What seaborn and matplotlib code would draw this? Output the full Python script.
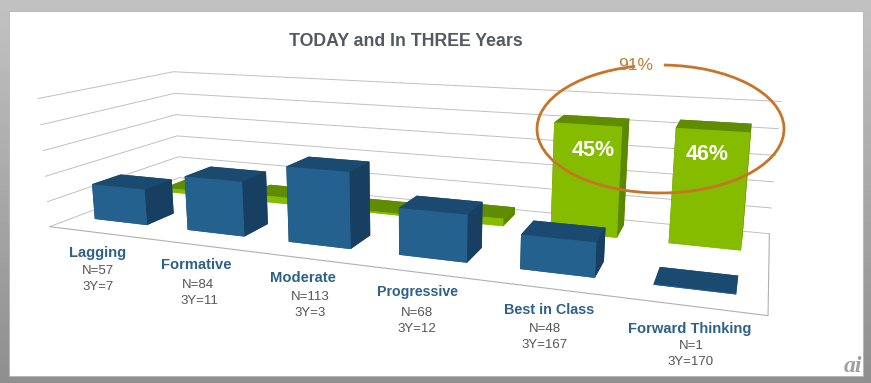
# -*- coding: utf-8 -*-
import numpy as np
import pandas as pd
import seaborn as sns
from matplotlib import pyplot as plt
from matplotlib.patches import Arc, Rectangle

sns.set_theme(style='white')
plt.rcParams['font.family'] = ['Liberation Sans', 'DejaVu Sans']

# data
categories = ['Lagging', 'Formative', 'Moderate', 'Progressive', 'Best in Class', 'Forward Thinking']
today = [57, 84, 113, 68, 48, 1]
three_years = [7, 11, 3, 12, 167, 170]
grid_levels = [0, 40, 80, 120, 160, 200]
share_labels = {4: '45%', 5: '46%'}

# colours: side faces in bar3d order -z, +z, -y, +y, -x, +x
blue = {'front': '#24618f', 'top': '#1a4a70', 'side': '#173f62'}
green = {'front': '#86bc00', 'top': '#5f8c00', 'side': '#5c8800'}

df = pd.DataFrame({'category': categories * 2,
                   'count': today + three_years,
                   'series': ['today'] * 6 + ['three'] * 6})

fig = plt.figure(figsize=(8.71, 3.83), dpi=100)

# grey frame and white panel
bg = fig.add_axes([0, 0, 1, 1], zorder=0)
shade = np.linspace(0.76, 0.56, 64).reshape(-1, 1)
bg.imshow(shade, cmap='gray', vmin=0, vmax=1, aspect='auto', extent=(0, 871, 383, 0))
bg.add_patch(Rectangle((9, 11), 854, 365, facecolor='white', edgecolor='#b4b4b4', linewidth=0.6))
bg.set_xlim(0, 871)
bg.set_ylim(383, 0)
bg.axis('off')

# let seaborn lay the bars out, then extrude its rectangles in depth
flat = fig.add_axes([0, 0, 0.1, 0.1])
sns.barplot(data=df, x='category', y='count', hue='series', hue_order=['today', 'three'],
            dodge=False, width=0.5724, legend=False, ax=flat)
bar_rects = [[(r.get_x(), r.get_width(), r.get_height()) for r in c] for c in flat.containers]
flat.remove()

x_lo, x_hi = -0.5, 5.5
y_lo, y_hi = 0, 2
row_y = {'today': 0.3443, 'three': 1.4215}
bar_depth = 0.4094

ax = fig.add_axes([0.0377, -0.4014, 0.8287, 1.8845], projection='3d', zorder=1)
ax.patch.set_alpha(0)
ax.computed_zorder = False
ax.set_xlim(x_lo, x_hi, view_margin=0)
ax.set_ylim(y_lo, y_hi, view_margin=0)
ax.set_zlim(grid_levels[0], grid_levels[-1], view_margin=0)
ax.view_init(12.7337, -68.9524, 0.1503)
ax.set_proj_type('persp', focal_length=0.2410)
ax.set_box_aspect((1, 0.3356, 0.1924))
ax.set_axis_off()

for z in grid_levels:
    ax.plot([x_lo, x_lo, x_hi], [y_lo, y_hi, y_hi], [z, z, z], color='#c0c0c0', lw=0.7,
            zorder=1, clip_on=False)
ax.plot([x_lo, x_hi, x_hi], [y_lo, y_lo, y_hi], [0, 0, 0], color='#b0b0b0', lw=0.8,
        zorder=1, clip_on=False)


def extrude(rects, y, cols, base):
    faces = [cols['front'], cols['top'], cols['front'], cols['top'], cols['side'], cols['side']]
    for i, (x, w, h) in enumerate(rects):
        poly = ax.bar3d(x, y, 0, w, bar_depth, h, color=faces, shade=False, linewidth=0)
        poly.set_zorder(base + i)
        poly.set_clip_on(False)


extrude(bar_rects[1], row_y['three'], green, 2)
extrude(bar_rects[0], row_y['today'], blue, 10)

# text and callout overlay in pixel units
top = fig.add_axes([0, 0, 1, 1], zorder=2)
top.set_xlim(0, 871)
top.set_ylim(383, 0)
top.axis('off')
top.patch.set_alpha(0)

top.text(406, 41, 'TODAY and In THREE Years', ha='center', va='center', fontsize=12.8,
         fontweight='bold', color='#555a60')

name_pos = [(98, 253), (196, 265), (303, 278), (417, 292), (549, 310), (690, 329)]
n_pos = [(98, 271), (198, 285), (310, 297), (417, 313), (545, 329), (691, 346)]
y3_pos = [(98, 287), (199, 301), (310, 313), (417, 329), (545, 345), (691, 362)]
name_sizes = [10.6, 10.6, 10.6, 10.2, 10.4, 10.6]
for i, name in enumerate(categories):
    top.text(*name_pos[i], name, ha='center', va='center', fontsize=name_sizes[i],
             fontweight='bold', color='#2f6188')
    top.text(*n_pos[i], f'N={today[i]}', ha='center', va='center', fontsize=9.5, color='#555555')
    top.text(*y3_pos[i], f'3Y={three_years[i]}', ha='center', va='center', fontsize=9.5, color='#555555')

share_pos = {4: (593, 151), 5: (707, 155)}
for i, lab in share_labels.items():
    top.text(*share_pos[i], lab, ha='center', va='center', fontsize=15.5, fontweight='bold', color='white')

top.add_patch(Arc((660.5, 129), 247, 128, theta1=273, theta2=608, color='#c87428', lw=2))
top.text(636, 66, '91%', ha='center', va='center', fontsize=12.5, color='#c87a35')
top.text(853, 366, 'ai', ha='center', va='center', fontsize=17, style='italic', fontweight='bold',
         color='#a0a0a0', family='Liberation Serif')

plt.savefig('out.png', dpi=100)
